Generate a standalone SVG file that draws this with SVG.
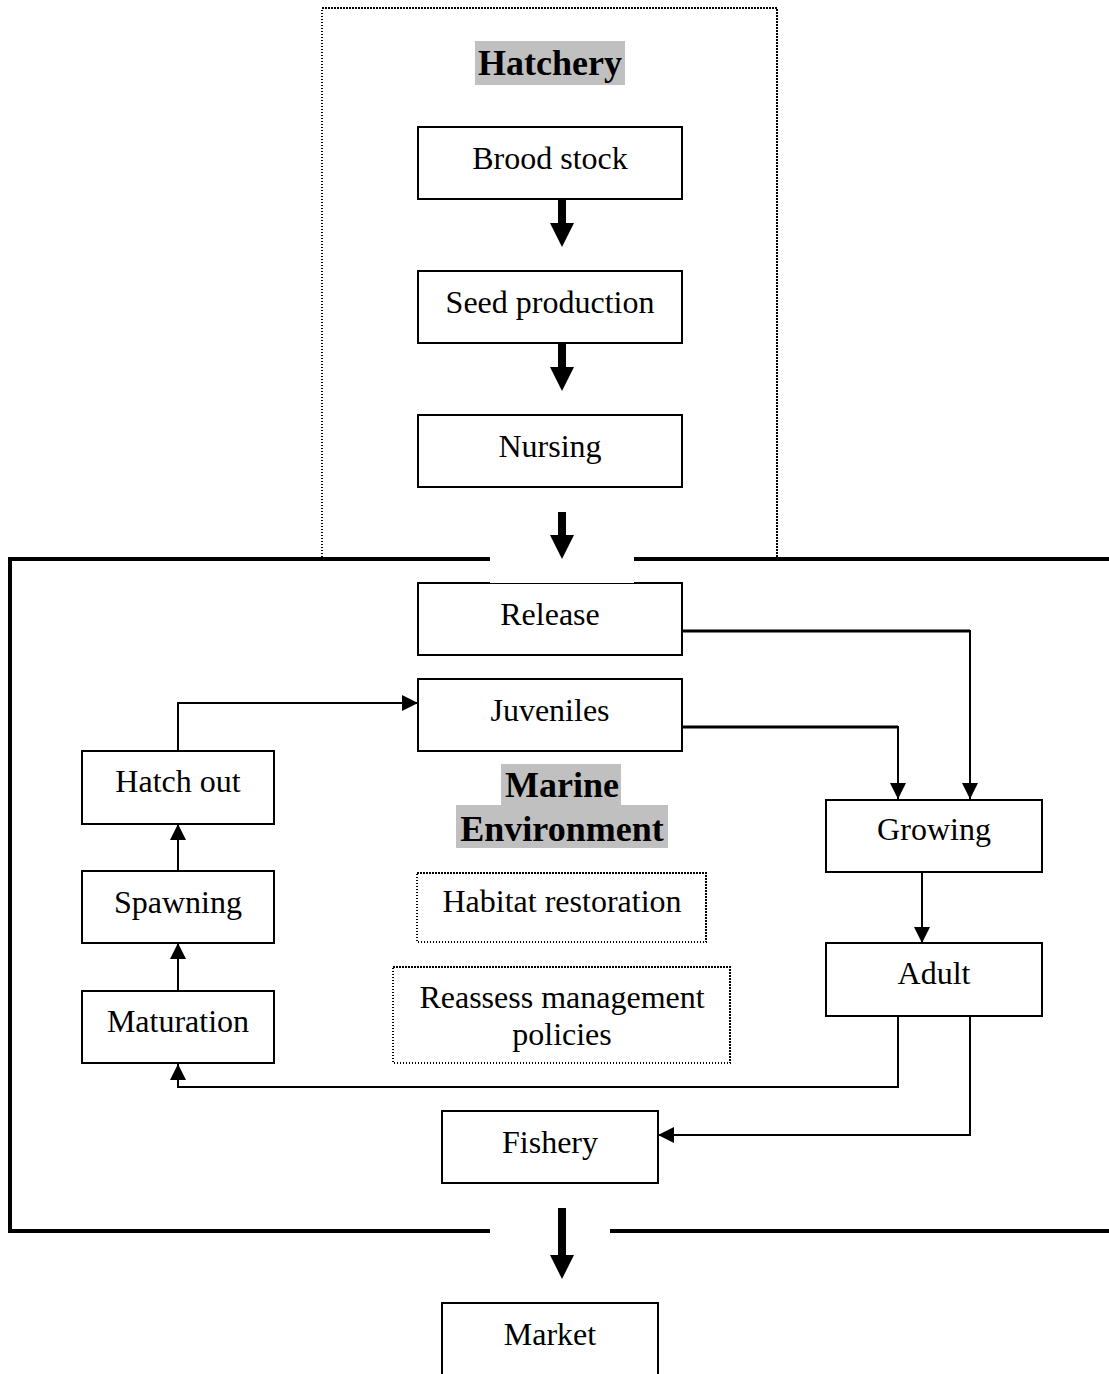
<svg xmlns="http://www.w3.org/2000/svg" width="1109" height="1374" viewBox="0 0 1109 1374">
  <style>
    .box { fill: #ffffff; stroke: #000000; stroke-width: 2; }
    .dot { fill: none; stroke: #000000; stroke-width: 1.5; stroke-dasharray: 1.5 1.5; shape-rendering: crispEdges; }
    .lbl { font-family: "Liberation Serif", "Times New Roman", serif; font-size: 32px; fill: #000000; text-anchor: middle; }
    .ttl { font-family: "Liberation Serif", "Times New Roman", serif; font-size: 36px; font-weight: bold; fill: #000000; text-anchor: middle; }
    .hl { fill: #c0c0c0; }
    .frame { fill: none; stroke: #000000; stroke-width: 4; }
    .link { fill: none; stroke: #000000; stroke-width: 2; }
    .link3 { fill: none; stroke: #000000; stroke-width: 3; }
    .big { fill: #000000; }
  </style>
  <defs>
    <marker id="ah" viewBox="0 0 16 16" refX="16" refY="8" markerWidth="16" markerHeight="16" markerUnits="userSpaceOnUse" orient="auto">
      <path d="M0,0 L16,8 L0,16 z" fill="#000000"/>
    </marker>
  </defs>
  <rect x="0" y="0" width="1109" height="1374" fill="#ffffff"/>

  <!-- Hatchery area (dotted outline) -->
  <g id="hatchery-area">
    <path class="dot" d="M322,557 V8 H777 V557"/>
    <rect class="hl" x="475" y="41" width="150" height="44"/>
    <text class="ttl" x="550" y="75">Hatchery</text>
  </g>

  <!-- Marine environment frame -->
  <g id="marine-frame">
    <path class="frame" d="M490,559 H10 V1231 H490"/>
    <path class="frame" d="M634,559 H1109"/>
    <path class="frame" d="M610,1231 H1109"/>
    <rect class="hl" x="501" y="764" width="120" height="41"/>
    <rect class="hl" x="456" y="805" width="212" height="43"/>
    <text class="ttl" x="562" y="797">Marine</text>
    <text class="ttl" x="562" y="841">Environment</text>
  </g>

  <!-- Nodes -->
  <g id="brood-stock">
    <rect class="box" x="418" y="127" width="264" height="72"/>
    <text class="lbl" x="550" y="169">Brood stock</text>
  </g>
  <g id="seed-production">
    <rect class="box" x="418" y="271" width="264" height="72"/>
    <text class="lbl" x="550" y="313">Seed production</text>
  </g>
  <g id="nursing">
    <rect class="box" x="418" y="415" width="264" height="72"/>
    <text class="lbl" x="550" y="457">Nursing</text>
  </g>
  <g id="release">
    <rect class="box" x="418" y="583" width="264" height="72"/>
    <rect x="490" y="548" width="144" height="35" fill="#ffffff"/>
    <text class="lbl" x="550" y="625">Release</text>
  </g>
  <g id="juveniles">
    <rect class="box" x="418" y="679" width="264" height="72"/>
    <text class="lbl" x="550" y="721">Juveniles</text>
  </g>
  <g id="hatch-out">
    <rect class="box" x="82" y="751" width="192" height="73"/>
    <text class="lbl" x="178" y="792">Hatch out</text>
  </g>
  <g id="spawning">
    <rect class="box" x="82" y="871" width="192" height="72"/>
    <text class="lbl" x="178" y="913">Spawning</text>
  </g>
  <g id="maturation">
    <rect class="box" x="82" y="991" width="192" height="72"/>
    <text class="lbl" x="178" y="1032">Maturation</text>
  </g>
  <g id="growing">
    <rect class="box" x="826" y="800" width="216" height="72"/>
    <text class="lbl" x="934" y="840">Growing</text>
  </g>
  <g id="adult">
    <rect class="box" x="826" y="943" width="216" height="73"/>
    <text class="lbl" x="934" y="984">Adult</text>
  </g>
  <g id="fishery">
    <rect class="box" x="442" y="1111" width="216" height="72"/>
    <text class="lbl" x="550" y="1153">Fishery</text>
  </g>
  <g id="market">
    <rect class="box" x="442" y="1303" width="216" height="90"/>
    <text class="lbl" x="550" y="1345">Market</text>
  </g>
  <g id="habitat-restoration">
    <rect class="dot" x="417" y="873" width="289" height="69"/>
    <text class="lbl" x="562" y="912">Habitat restoration</text>
  </g>
  <g id="reassess-policies">
    <rect class="dot" x="393" y="967" width="337" height="96"/>
    <text class="lbl" x="562" y="1008">Reassess management</text>
    <text class="lbl" x="562" y="1045">policies</text>
  </g>

  <!-- Connectors -->
  <g id="connectors">
    <path class="big" d="M558,199 H566 V223 H574 L562,247 L550,223 H558 Z"/>
    <path class="big" d="M558,343 H566 V367 H574 L562,391 L550,367 H558 Z"/>
    <path class="big" d="M558,512 H566 V535 H574 L562,559 L550,535 H558 Z"/>
    <path class="big" d="M558,1208 H566 V1255 H574 L562,1279 L550,1255 H558 Z"/>

    <path class="link3" d="M682,631 H970"/>
    <path class="link" d="M970,630 V799" marker-end="url(#ah)"/>
    <path class="link3" d="M682,727 H898"/>
    <path class="link" d="M898,726 V799" marker-end="url(#ah)"/>
    <path class="link" d="M922,872 V943" marker-end="url(#ah)"/>
    <path class="link" d="M898,1016 V1087 H178 V1064" marker-end="url(#ah)"/>
    <path class="link" d="M970,1016 V1135 H658" marker-end="url(#ah)"/>
    <path class="link" d="M178,991 V943" marker-end="url(#ah)"/>
    <path class="link" d="M178,871 V824" marker-end="url(#ah)"/>
    <path class="link" d="M178,751 V703 H418" marker-end="url(#ah)"/>
  </g>
</svg>
